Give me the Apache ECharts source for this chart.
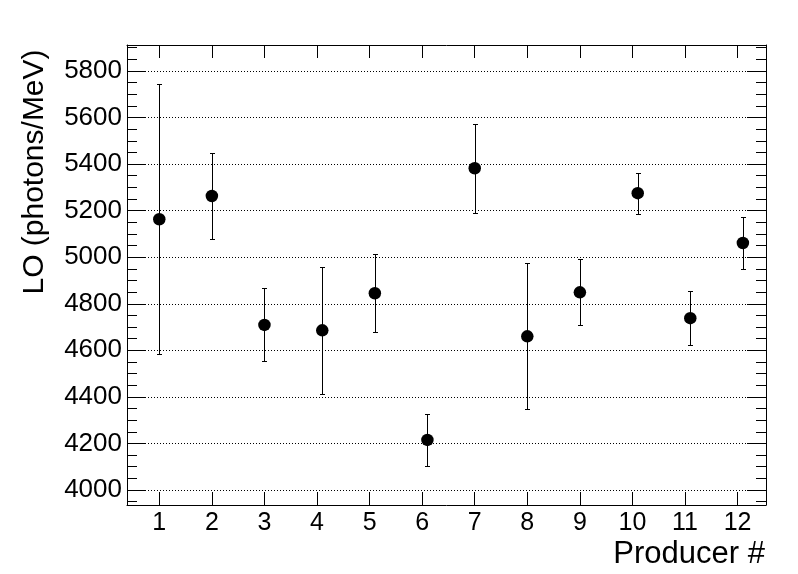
<!DOCTYPE html>
<html>
<head>
<meta charset="utf-8">
<script src="https://cdn.jsdelivr.net/npm/echarts@6/dist/echarts.min.js"></script>
<style>
html,body{margin:0;padding:0;background:#fff;}
#chart{width:798px;height:574px;}
</style>
</head>
<body>
<div id="chart"></div>
<script>
// ---- data ----
var producerX = [1, 2, 3, 4.1, 5.1, 6.1, 7, 8, 9, 10.1, 11.1, 12.1];
var loValues  = [5163, 5263, 4709, 4686, 4845, 4215, 5382, 4660, 4849, 5275, 4738, 5061];
var loErrors  = [580, 186, 157, 274, 168, 112, 191, 313, 142, 88, 116, 112];
var xTickValues = [1, 2, 3, 4, 5, 6, 7, 8, 9, 10, 11, 12];
var yTickValues = [4000, 4200, 4400, 4600, 4800, 5000, 5200, 5400, 5600, 5800];
var yMinorValues = [3950, 4050, 4100, 4150, 4250, 4300, 4350, 4450, 4500, 4550, 4650, 4700, 4750,
  4850, 4900, 4950, 5050, 5100, 5150, 5250, 5300, 5350, 5450, 5500, 5550, 5650, 5700, 5750, 5850, 5900];
var xRange = [0.386, 12.54];
var yRange = [3935.6, 5911.5];
var yTitle = 'LO (photons/MeV)';
var xTitle = 'Producer #';

var FONT = 'Liberation Sans';
var chart = echarts.init(document.getElementById('chart'), null, {renderer: 'canvas'});

var pointData = producerX.map(function (x, i) { return [x, loValues[i]]; });
var errData = producerX.map(function (x, i) { return [x, loValues[i], loErrors[i]]; });

function baseX(pos, showLabels) {
  return {
    type: 'value', position: pos, min: xRange[0], max: xRange[1],
    axisLine: {show: true, onZero: false, lineStyle: {color: '#000', width: 1}},
    axisTick: {show: true, inside: true, length: 13, customValues: xTickValues, lineStyle: {color: '#000', width: 1}},
    axisLabel: {show: showLabels, customValues: xTickValues, margin: 6, fontFamily: FONT, fontSize: 25, color: '#000',
      formatter: function (v) { return String(Math.round(v)); }},
    splitLine: {show: false}
  };
}
function baseY(pos, major, showLabels) {
  return {
    type: 'value', position: pos, min: yRange[0], max: yRange[1],
    axisLine: {show: major, onZero: false, lineStyle: {color: '#000', width: 1}},
    axisTick: {show: true, inside: true, length: major ? 19 : 10, customValues: major ? yTickValues : yMinorValues,
      lineStyle: {color: '#000', width: 1}},
    axisLabel: {show: showLabels, customValues: yTickValues, margin: 5, fontFamily: FONT, fontSize: 26, color: '#000',
      formatter: function (v) { return String(Math.round(v)); }},
    splitLine: {show: major && showLabels, lineStyle: {color: '#000', width: 1, type: [1, 2]}}
  };
}

var option = {
  animation: false,
  backgroundColor: '#fff',
  grid: {left: 127, right: 32, top: 45, bottom: 69, containLabel: false},
  xAxis: [baseX('bottom', true), baseX('top', false)],
  yAxis: [baseY('left', true, true), baseY('left', false, false), baseY('right', true, false), baseY('right', false, false)],
  series: [
    {
      type: 'custom', xAxisIndex: 0, yAxisIndex: 0, data: errData,
      encode: {x: 0, y: 1},
      renderItem: function (params, api) {
        var x = api.value(0), v = api.value(1), e = api.value(2);
        var top = api.coord([x, v + e]);
        var bot = api.coord([x, v - e]);
        var cx = Math.round(top[0]) + 0.5;
        var ty = Math.round(top[1]) + 0.5, by = Math.round(bot[1]) + 0.5;
        var cap = 2.5;
        var st = {stroke: '#000', lineWidth: 1};
        return {type: 'group', children: [
          {type: 'line', shape: {x1: cx, y1: ty, x2: cx, y2: by}, style: st},
          {type: 'line', shape: {x1: cx - cap, y1: ty, x2: cx + cap, y2: ty}, style: st},
          {type: 'line', shape: {x1: cx - cap, y1: by, x2: cx + cap, y2: by}, style: st}
        ]};
      },
      z: 3
    },
    {
      type: 'scatter', xAxisIndex: 0, yAxisIndex: 0, data: pointData,
      symbol: 'circle', symbolSize: 12.5, itemStyle: {color: '#000', opacity: 1}, z: 4
    }
  ],
  graphic: [
    {type: 'text', x: 35, y: 172, rotation: Math.PI / 2,
      style: {text: yTitle, font: '30px "Liberation Sans"', fill: '#000', align: 'center', verticalAlign: 'middle'}},
    {type: 'text', x: 765, y: 554,
      style: {text: xTitle, font: '31px "Liberation Sans"', fill: '#000', align: 'right', verticalAlign: 'middle'}}
  ]
};
chart.setOption(option);
</script>
</body>
</html>
